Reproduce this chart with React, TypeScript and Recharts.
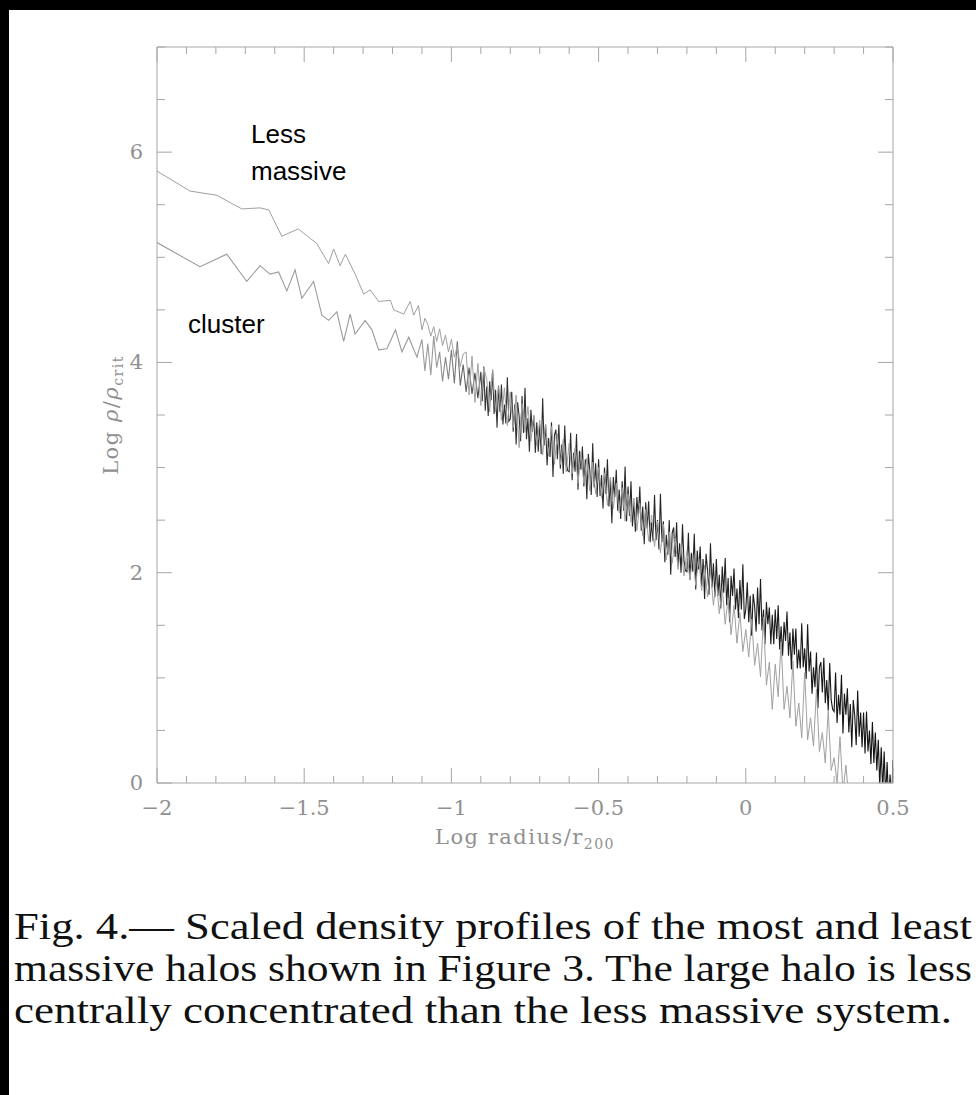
import { LineChart, Line, XAxis, YAxis } from 'recharts'

const radiusTicks = [
  -2, -1.9, -1.8, -1.7, -1.6, -1.5, -1.4, -1.3, -1.2, -1.1, -1, -0.9, -0.8, -0.7, -0.6, -0.5,
  -0.4, -0.3, -0.2, -0.1, 0, 0.1, 0.2, 0.3, 0.4, 0.5,
]
const radiusLabels = [-2, -1.5, -1, -0.5, 0, 0.5]
const densityTicks = [0, 0.5, 1, 1.5, 2, 2.5, 3, 3.5, 4, 4.5, 5, 5.5, 6, 6.5, 7]
const densityLabels = [0, 2, 4, 6]

// less massive halo (upper curve at small radius)
const lessMassiveRadius = [
  -2, -1.888, -1.797, -1.712, -1.65, -1.62, -1.576, -1.52, -1.457, -1.417, -1.4, -1.378, -1.36,
  -1.327, -1.298, -1.276, -1.247, -1.207, -1.196, -1.162, -1.14, -1.128, -1.112,
  -1.1, -1.09, -1.08, -1.07, -1.06, -1.05, -1.04, -1.03, -1.02, -1.01, -1, -0.99, -0.98, -0.97, -0.96,
  -0.95, -0.94, -0.93, -0.92, -0.91, -0.9, -0.89, -0.88, -0.87, -0.86,
  -0.85, -0.84, -0.83, -0.82, -0.81, -0.8, -0.79, -0.78, -0.77, -0.76,
  -0.75, -0.74, -0.73, -0.72, -0.71, -0.7, -0.69, -0.68, -0.67, -0.66,
  -0.65, -0.64, -0.63, -0.62, -0.61, -0.6, -0.59, -0.58, -0.57, -0.56,
  -0.55, -0.54, -0.53, -0.52, -0.51, -0.5, -0.49, -0.48, -0.47, -0.46,
  -0.45, -0.44, -0.43, -0.42, -0.41, -0.4, -0.39, -0.38, -0.37, -0.36,
  -0.35, -0.34, -0.33, -0.32, -0.31, -0.3, -0.29, -0.28, -0.27, -0.26,
  -0.25, -0.24, -0.23, -0.22, -0.21, -0.2, -0.19, -0.18, -0.17, -0.16,
  -0.15, -0.14, -0.13, -0.12, -0.11, -0.1, -0.09, -0.08, -0.07, -0.06,
  -0.05, -0.04, -0.03, -0.02, -0.01, 0, 0.01, 0.02, 0.03, 0.04,
  0.05, 0.06, 0.07, 0.08, 0.09, 0.1, 0.11, 0.12, 0.13, 0.14,
  0.15, 0.16, 0.17, 0.18, 0.19, 0.2, 0.21, 0.22, 0.23, 0.24,
  0.25, 0.26, 0.27, 0.28, 0.29, 0.3, 0.31, 0.32, 0.33, 0.34, 0.35,
]
const lessMassiveDensity = [
  5.82, 5.63, 5.59, 5.46, 5.47, 5.45, 5.2, 5.27, 5.13, 4.94, 5.08, 4.92, 5.03,
  4.84, 4.65, 4.69, 4.58, 4.59, 4.5, 4.46, 4.58, 4.45, 4.54,
  4.31, 4.42, 4.36, 4.25, 4.34, 4.2, 4.32, 4.16, 4.26, 4.1, 4.22, 4.05, 4.15, 3.96, 4.08,
  4.1, 3.69, 4.06, 3.62, 3.99, 3.59, 3.95, 3.84, 3.53, 3.93,
  3.53, 3.78, 3.45, 3.76, 3.4, 3.72, 3.38, 3.69, 3.19, 3.61,
  3.34, 3.58, 3.25, 3.5, 3.21, 3.45, 3.12, 3.41, 3.11, 3.39,
  3.03, 3.32, 3.03, 3.27, 2.96, 3.23, 2.94, 3.19, 2.85, 3.15,
  2.85, 3.09, 2.78, 3.05, 2.75, 3.0, 2.71, 2.95, 2.64, 2.91,
  2.61, 2.85, 2.57, 2.81, 2.49, 2.75, 2.48, 2.71, 2.4, 2.66,
  2.35, 2.6, 2.3, 2.55, 2.25, 2.49, 2.19, 2.46, 2.12, 2.39,
  2.09, 2.33, 2.03, 2.27, 1.97, 2.21, 1.93, 2.17, 1.88, 2.14,
  1.83, 2.07, 1.77, 2.02, 1.69, 1.93, 1.61, 1.86, 1.51, 1.76,
  1.41, 1.69, 1.33, 1.62, 1.25, 1.46, 1.2, 1.56, 1.12, 1.33,
  1.01, 1.58, 0.93, 1.15, 0.7, 1.13, 0.82, 1.34, 0.7, 0.92,
  0.62, 1.16, 0.54, 0.76, 0.43, 1.05, 0.41, 0.62, 0.35, 0.89,
  0.3, 0.48, 0.19, 0.69, 0.12, 0.24, 0.0, 0.44, -0.09, 0.17, -0.16,
]

// cluster-sized halo (lower curve at small radius, dense noisy band further out)
const clusterRadius = [
  -2, -1.854, -1.763, -1.695, -1.65, -1.616, -1.587, -1.559, -1.531, -1.508, -1.468, -1.44, -1.417,
  -1.389, -1.366, -1.344, -1.327, -1.293, -1.27, -1.247, -1.219, -1.19, -1.168, -1.145, -1.117,
  -1.1, -1.09, -1.08, -1.07, -1.06, -1.05, -1.04, -1.03, -1.02, -1.01, -1, -0.99, -0.98, -0.97, -0.96,
  -0.95, -0.94, -0.93, -0.92, -0.91,
  -0.9, -0.895, -0.89, -0.885, -0.88, -0.875, -0.87, -0.865, -0.86, -0.855, -0.85, -0.845, -0.84, -0.835, -0.83, -0.825, -0.82, -0.815, -0.81, -0.805,
  -0.8, -0.795, -0.79, -0.785, -0.78, -0.775, -0.77, -0.765, -0.76, -0.755, -0.75, -0.745, -0.74, -0.735, -0.73, -0.725, -0.72, -0.715, -0.71, -0.705,
  -0.7, -0.695, -0.69, -0.685, -0.68, -0.675, -0.67, -0.665, -0.66, -0.655, -0.65, -0.645, -0.64, -0.635, -0.63, -0.625, -0.62, -0.615, -0.61, -0.605,
  -0.6, -0.595, -0.59, -0.585, -0.58, -0.575, -0.57, -0.565, -0.56, -0.555, -0.55, -0.545, -0.54, -0.535, -0.53, -0.525, -0.52, -0.515, -0.51, -0.505,
  -0.5, -0.495, -0.49, -0.485, -0.48, -0.475, -0.47, -0.465, -0.46, -0.455, -0.45, -0.445, -0.44, -0.435, -0.43, -0.425, -0.42, -0.415, -0.41, -0.405,
  -0.4, -0.395, -0.39, -0.385, -0.38, -0.375, -0.37, -0.365, -0.36, -0.355, -0.35, -0.345, -0.34, -0.335, -0.33, -0.325, -0.32, -0.315, -0.31, -0.305,
  -0.3, -0.295, -0.29, -0.285, -0.28, -0.275, -0.27, -0.265, -0.26, -0.255, -0.25, -0.245, -0.24, -0.235, -0.23, -0.225, -0.22, -0.215, -0.21, -0.205,
  -0.2, -0.195, -0.19, -0.185, -0.18, -0.175, -0.17, -0.165, -0.16, -0.155, -0.15, -0.145, -0.14, -0.135, -0.13, -0.125, -0.12, -0.115, -0.11, -0.105,
  -0.1, -0.095, -0.09, -0.085, -0.08, -0.075, -0.07, -0.065, -0.06, -0.055, -0.05, -0.045, -0.04, -0.035, -0.03, -0.025, -0.02, -0.015, -0.01, -0.005,
  0, 0.005, 0.01, 0.015, 0.02, 0.025, 0.03, 0.035, 0.04, 0.045, 0.05, 0.055, 0.06, 0.065, 0.07, 0.075, 0.08, 0.085, 0.09, 0.095,
  0.1, 0.105, 0.11, 0.115, 0.12, 0.125, 0.13, 0.135, 0.14, 0.145, 0.15, 0.155, 0.16, 0.165, 0.17, 0.175, 0.18, 0.185, 0.19, 0.195,
  0.2, 0.205, 0.21, 0.215, 0.22, 0.225, 0.23, 0.235, 0.24, 0.245, 0.25, 0.255, 0.26, 0.265, 0.27, 0.275, 0.28, 0.285, 0.29, 0.295,
  0.3, 0.305, 0.31, 0.315, 0.32, 0.325, 0.33, 0.335, 0.34, 0.345, 0.35, 0.355, 0.36, 0.365, 0.37, 0.375, 0.38, 0.385, 0.39, 0.395,
  0.4, 0.405, 0.41, 0.415, 0.42, 0.425, 0.43, 0.435, 0.44, 0.445, 0.45, 0.455, 0.46, 0.465, 0.47, 0.475, 0.48, 0.485, 0.49, 0.495, 0.5,
]
const clusterDensity = [
  5.14, 4.91, 5.03, 4.77, 4.92, 4.84, 4.86, 4.68, 4.88, 4.61, 4.77, 4.45, 4.4,
  4.48, 4.2, 4.46, 4.27, 4.4, 4.31, 4.12, 4.13, 4.31, 4.1, 4.24, 4.05,
  4.22, 3.92, 4.18, 3.88, 4.25, 3.95, 4.1, 3.82, 4.05, 3.84, 4.12, 3.8, 4.2, 3.78, 3.98,
  3.72, 3.95, 3.7, 3.9, 3.66,
  3.91, 3.63, 3.96, 3.54, 3.77, 3.49, 3.82, 3.64, 3.93, 3.51, 3.74, 3.38, 3.78, 3.53, 3.79, 3.41, 3.6, 3.42, 3.86, 3.44,
  3.46, 3.72, 3.34, 3.6, 3.22, 3.62, 3.49, 3.25, 3.68, 3.33, 3.76, 3.27, 3.47, 3.15, 3.55, 3.34, 3.49, 3.14, 3.43, 3.15,
  3.41, 3.13, 3.66, 3.21, 3.41, 3.02, 3.28, 3.1, 3.43, 2.91, 3.31, 3.36, 3.08, 3.41, 2.99, 3.22, 2.94, 3.4, 3.05, 2.97,
  2.96, 3.33, 2.88, 3.14, 2.96, 3.32, 2.79, 3.16, 2.98, 3.2, 2.82, 3.08, 2.7, 3.13, 2.98, 2.74, 3.23, 2.81, 3.04, 2.72,
  3.08, 2.73, 2.93, 2.61, 3.0, 2.75, 3.08, 2.63, 2.89, 2.47, 2.91, 2.72, 2.98, 2.59, 2.79, 2.51, 2.87, 2.59, 3.01, 2.49,
  2.82, 2.54, 2.87, 2.44, 2.67, 2.39, 2.72, 2.53, 2.82, 2.4, 2.63, 2.27, 2.67, 2.42, 2.68, 2.29, 2.48, 2.3, 2.74, 2.31,
  2.5, 2.22, 2.75, 2.29, 2.49, 2.1, 2.36, 2.17, 2.5, 1.98, 2.38, 2.43, 2.15, 2.48, 2.06, 2.28, 2.0, 2.46, 2.11, 2.02,
  2.01, 2.38, 1.93, 2.19, 2.01, 2.37, 1.84, 2.21, 2.03, 2.25, 1.87, 2.13, 1.75, 2.18, 2.03, 1.79, 2.28, 1.86, 2.09, 1.77,
  2.13, 1.78, 1.98, 1.66, 2.06, 1.81, 2.14, 1.69, 1.95, 1.53, 1.97, 1.78, 2.04, 1.65, 1.85, 1.57, 1.93, 1.65, 2.08, 1.56,
  1.65, 1.91, 1.53, 1.78, 1.4, 1.8, 1.68, 1.44, 1.86, 1.51, 1.94, 1.45, 1.65, 1.32, 1.72, 1.51, 1.67, 1.32, 1.6, 1.32,
  1.65, 1.37, 1.69, 1.27, 1.49, 1.21, 1.53, 1.35, 1.63, 1.21, 1.43, 1.08, 1.47, 1.22, 1.47, 1.09, 1.27, 1.09, 1.52, 1.1,
  1.28, 0.99, 1.51, 1.06, 1.25, 0.85, 1.1, 0.91, 1.24, 0.71, 1.1, 1.15, 0.86, 1.19, 0.76, 0.98, 0.69, 1.14, 0.79, 0.7,
  0.68, 1.05, 0.57, 0.84, 0.65, 1.03, 0.47, 0.85, 0.65, 0.9, 0.48, 0.75, 0.34, 0.79, 0.64, 0.36, 0.88, 0.44, 0.67, 0.34,
  0.67, 0.28, 0.68, 0.3, 0.5, 0.18, 0.58, 0.19, 0.48, 0.12, 0.41, -0.03, 0.34, -0.08, 0.3, -0.15, 0.2, -0.2, 0.08, -0.2, 0.22,
]

const captionLines = [
  'Fig. 4.\u2014 Scaled density profiles of the most and least',
  'massive halos shown in Figure 3. The large halo is less',
  'centrally concentrated than the less massive system.',
]

const FRAME = '#a6a6a6'
const LABEL = '#909090'
const SERIF = '"Liberation Serif", "DejaVu Serif", serif'
const AXIS_SERIF = '"DejaVu Serif", serif'
const SANS = '"Liberation Sans", Arial, sans-serif'

const lessMassive = lessMassiveRadius.map((x, i) => ({ x, y: lessMassiveDensity[i] }))
const cluster = clusterRadius.map((x, i) => ({ x, y: clusterDensity[i] }))

const isLabelled = (list: number[], v: number) => list.some((l) => Math.abs(l - v) < 1e-6)
const fmt = (v: number) => (v < 0 ? '\u2212' + Math.abs(v) : String(v))

// ticks point into the frame, labels only on bottom / left
function RadiusTick({ x, y, payload, side }: any) {
  const major = isLabelled(radiusLabels, payload.value)
  const len = major ? 15 : 7
  const dir = side === 'top' ? 1 : -1
  return (
    <g>
      <line x1={x} x2={x} y1={y} y2={y + dir * len} stroke={FRAME} strokeWidth={1} />
      {side === 'bottom' && major && (
        <text x={x} y={y + 32} textAnchor="middle" fill={LABEL} fontSize={21} fontFamily={AXIS_SERIF}>
          {fmt(payload.value)}
        </text>
      )}
    </g>
  )
}

function DensityTick({ x, y, payload, side }: any) {
  const major = isLabelled(densityLabels, payload.value)
  const len = major ? 15 : 8
  const dir = side === 'left' ? 1 : -1
  return (
    <g>
      <line x1={x} x2={x + dir * len} y1={y} y2={y} stroke={FRAME} strokeWidth={1} />
      {side === 'left' && major && (
        <text x={x - 14} y={y + 7} textAnchor="end" fill={LABEL} fontSize={21} fontFamily={AXIS_SERIF}>
          {fmt(payload.value)}
        </text>
      )}
    </g>
  )
}

export default function App() {
  return (
    <div style={{ position: 'absolute', left: 0, top: 0, width: 976, height: 1095, background: '#fff' }}>
      <div style={{ position: 'absolute', left: 0, top: 0 }}>
        <LineChart width={976} height={880} margin={{ top: 37, right: 73, bottom: 57, left: 97 }}>
          <defs>
            <linearGradient id="clusterShade" x1="0" y1="0" x2="1" y2="0">
              <stop offset="0" stopColor="#9a9a9a" />
              <stop offset="0.38" stopColor="#9a9a9a" />
              <stop offset="0.45" stopColor="#333" />
              <stop offset="1" stopColor="#111" />
            </linearGradient>
          </defs>
          <XAxis
            dataKey="x"
            type="number"
            domain={[-2, 0.5]}
            ticks={radiusTicks}
            interval={0}
            allowDataOverflow
            height={40}
            tickSize={0}
            tickMargin={0}
            tickLine={false}
            axisLine={{ stroke: FRAME }}
            tick={(p: any) => <RadiusTick {...p} side="bottom" />}
          />
          <XAxis
            xAxisId="top"
            orientation="top"
            dataKey="x"
            type="number"
            domain={[-2, 0.5]}
            ticks={radiusTicks}
            interval={0}
            allowDataOverflow
            height={10}
            tickSize={0}
            tickMargin={0}
            tickLine={false}
            axisLine={{ stroke: FRAME }}
            tick={(p: any) => <RadiusTick {...p} side="top" />}
          />
          <YAxis
            type="number"
            domain={[0, 7]}
            ticks={densityTicks}
            interval={0}
            allowDataOverflow
            width={60}
            tickSize={0}
            tickMargin={0}
            tickLine={false}
            axisLine={{ stroke: FRAME }}
            tick={(p: any) => <DensityTick {...p} side="left" />}
          />
          <YAxis
            yAxisId="right"
            orientation="right"
            type="number"
            domain={[0, 7]}
            ticks={densityTicks}
            interval={0}
            allowDataOverflow
            width={10}
            tickSize={0}
            tickMargin={0}
            tickLine={false}
            axisLine={{ stroke: FRAME }}
            tick={(p: any) => <DensityTick {...p} side="right" />}
          />
          <Line
            data={cluster}
            dataKey="y"
            type="linear"
            stroke="url(#clusterShade)"
            strokeWidth={1.1}
            dot={false}
            activeDot={false}
            isAnimationActive={false}
          />
          <Line
            data={lessMassive}
            dataKey="y"
            type="linear"
            stroke="#a0a0a0"
            strokeWidth={1}
            dot={false}
            activeDot={false}
            isAnimationActive={false}
          />
        </LineChart>
      </div>
      <svg width={976} height={1095} style={{ position: 'absolute', left: 0, top: 0, pointerEvents: 'none' }}>
        <rect x={0} y={0} width={976} height={10} fill="#000" />
        <rect x={0} y={0} width={9} height={1095} fill="#000" />

        <text fontFamily={SANS} fontSize={26} fill="#000">
          <tspan x={251} y={143}>Less</tspan>
          <tspan x={251} y={180}>massive</tspan>
        </text>
        <text x={188} y={333} fontFamily={SANS} fontSize={26} fill="#000">cluster</text>

        <text x={525} y={844} textAnchor="middle" fontFamily={AXIS_SERIF} fontSize={21} letterSpacing={1.5} fill={LABEL}>
          Log radius/r<tspan fontSize={14} dy={5}>200</tspan>
        </text>
        <text
          transform="translate(118,415) rotate(-90)"
          textAnchor="middle"
          fontFamily={AXIS_SERIF}
          fontSize={21}
          letterSpacing={1.5}
          fill={LABEL}
        >
          Log <tspan fontStyle="italic">ρ</tspan>/<tspan fontStyle="italic">ρ</tspan>
          <tspan fontSize={14} dy={5}>crit</tspan>
        </text>

        {captionLines.map((line, i) => (
          <text
            key={i}
            x={14}
            y={939 + i * 42}
            fontFamily={SERIF}
            fontSize={38}
            fill="#111"
            textLength={i === 2 ? 938 : 958}
            lengthAdjust="spacingAndGlyphs"
          >
            {line}
          </text>
        ))}
      </svg>
    </div>
  )
}
